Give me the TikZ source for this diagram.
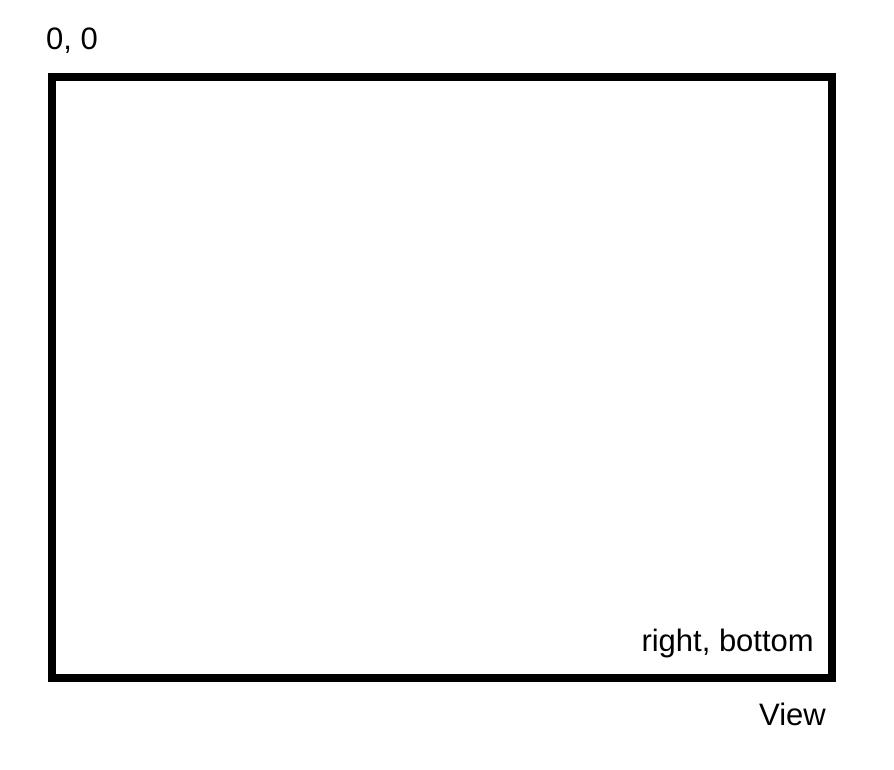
\documentclass[tikz,border=0pt]{standalone}
\usepackage{fontspec}
\setmainfont{Liberation Sans}
\begin{document}
\begin{tikzpicture}[x=1pt, y=-1pt, label/.style={inner sep=0pt, font=\fontsize{31}{37}\selectfont}]

      \useasboundingbox (0, 0) rectangle (894, 770);
      \draw[line width = 8pt] (51.5, 77) rectangle (831.5, 678);

      \node[label, anchor = base west] (origin) at (46, 50) {0, 0};
      \node[label, anchor = base east] (corner) at (814, 651) {right, bottom};
      \node[label, anchor = base east] (view) at (826, 725) {View};

    \end{tikzpicture}
\end{document}
